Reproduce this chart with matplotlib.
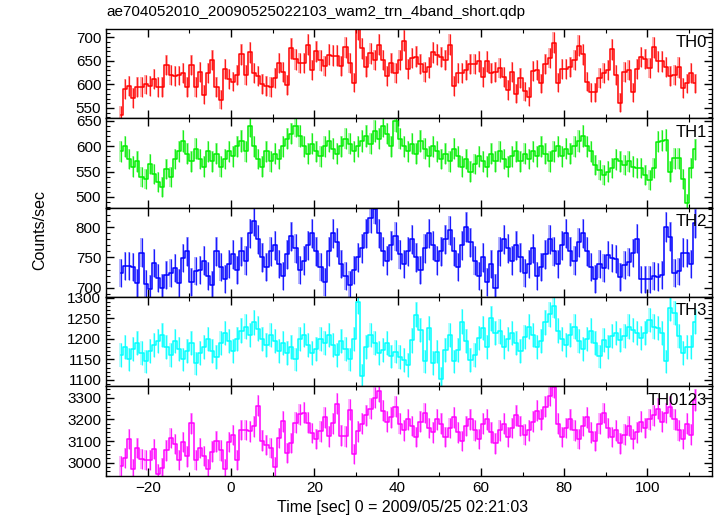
import numpy as np
import matplotlib
matplotlib.use("Agg")
import matplotlib.pyplot as plt
from matplotlib.ticker import MultipleLocator

plt.rcParams["font.family"] = ["Liberation Sans", "DejaVu Sans"]

TITLE = "ae704052010_20090525022103_wam2_trn_4band_short.qdp"
XLABEL = "Time [sec] 0 = 2009/05/25 02:21:03"
YLABEL = "Counts/sec"
T_START = -27.0   # start of the first 1 s bin
BIN = 1.0

# count rates per 1 s bin
th0 = [535, 590, 597, 571, 595, 595, 600, 597, 611, 595, 594, 641, 620, 618, 619, 624,
       594, 641, 595, 627, 578, 624, 652, 594, 567, 632, 611, 606, 620, 664, 620, 668,
       624, 618, 601, 597, 595, 613, 646, 627, 599, 677, 653, 645, 646, 684, 631, 670,
       651, 639, 663, 661, 661, 639, 679, 645, 604, 717, 677, 638, 666, 652, 684, 652,
       618, 646, 625, 652,
       693, 632, 656, 659, 644, 627, 636, 668, 663, 658, 652, 684, 597, 624, 624, 631,
       644, 644, 649, 615, 649, 625, 627, 634, 615, 588, 627, 580, 613, 585, 574, 629,
       631, 602, 644, 656, 689,
       604, 633, 633, 637, 652, 682, 664, 606, 583, 583, 613, 624, 631, 675, 620, 561,
       627, 631, 583, 632, 658, 654, 634, 679, 649, 649, 637, 618, 620, 636, 592, 602,
       624, 602]
th1 = [590, 600, 575, 560, 570, 540, 535, 565,
       545, 530, 520, 555, 540, 575, 590, 610, 585, 570,
       595, 575, 560, 590, 570, 585, 560, 575, 590, 580,
       600, 610, 590, 640, 600, 575, 560, 590, 570, 585,
       575, 600, 615, 625, 640, 620, 600, 585, 605, 590,
       580, 600, 610, 595, 585, 600, 615, 605, 590, 600,
       610, 620, 605, 630, 615, 640, 625, 600, 650, 615,
       600, 590, 605, 585, 610, 595, 580, 600, 590, 575,
       585, 570, 595, 580, 560, 575, 550, 565, 580, 570,
       560, 585, 570, 590, 575, 560, 580, 590, 570, 585,
       575, 590, 580, 600, 585, 570, 590, 600, 580, 595,
       585, 600, 610, 620, 600, 590,
       563, 553, 543, 550, 557, 574, 570, 563, 570, 560, 557, 557, 543, 533, 557, 609,
       611, 612, 550, 576, 576, 535, 488, 557, 594]
th2 = [725, 736, 736, 734, 708, 758, 707, 698, 741, 716, 700, 721, 724, 732, 708, 749,
       760, 710, 728,
       730, 745, 720, 705, 760, 735, 715, 740, 755,
       730, 760, 745, 790, 810, 780, 750, 735, 760, 770,
       740, 720, 755, 785, 765, 730, 745, 770, 790, 760,
       735, 710, 760, 790, 775, 740, 720, 705, 730, 750,
       765, 790, 815, 830, 790, 760, 745, 770, 785, 755,
       740, 760, 780, 750, 730, 765, 790, 770, 745, 760,
       780, 795, 760, 735, 770, 800, 775, 745, 720, 750,
       710, 740, 700, 760, 780, 765, 745, 770, 750, 725,
       740, 765, 720, 735, 755, 780, 760, 740, 770, 790,
       760, 745, 775, 790, 760, 735,
       715, 740, 732, 754, 749, 747, 718, 738, 743, 757, 781, 714, 714, 714, 720, 718,
       721, 800, 784, 724, 727, 758, 757, 740, 806]
th3 = [1160, 1180, 1150, 1175, 1190, 1165, 1145, 1170, 1185, 1195,
       1210, 1180, 1160, 1195, 1175, 1150, 1170, 1190, 1140, 1165,
       1180, 1200, 1170, 1155, 1190, 1215, 1195, 1170, 1200, 1220,
       1230, 1210, 1240, 1225, 1200, 1185, 1210, 1195, 1170, 1190,
       1165, 1180, 1150, 1200, 1210, 1185, 1165, 1175, 1200, 1190,
       1210, 1185, 1160, 1195, 1175, 1150, 1200, 1290, 1110, 1180,
       1210, 1190, 1165,
       1173, 1190, 1157, 1169, 1155, 1149, 1136, 1196, 1259, 1222, 1145, 1226, 1141, 1169,
       1102, 1173, 1210, 1145, 1173, 1242, 1194, 1149, 1161, 1202, 1226, 1181, 1250, 1214,
       1218,
       1180, 1200, 1215, 1190, 1170, 1205, 1230, 1210, 1180, 1195, 1240, 1260, 1280, 1220,
       1200, 1185, 1210, 1230, 1195, 1175, 1200, 1220, 1190,
       1157, 1198, 1181, 1206, 1214, 1198, 1206, 1230, 1222, 1214, 1202, 1214, 1246, 1230,
       1226, 1214, 1145, 1275, 1263, 1206, 1165, 1181, 1181, 1242]
th0123 = [2986, 3022, 3109, 2971, 3068, 3019, 3014, 3014, 3063, 2948, 2975, 3057, 3114,
          3088, 3014, 3097, 3029, 3183, 3014, 3068, 3032, 2971, 3052, 3099, 3057, 2971,
          3095, 3129, 3014, 3152, 3152, 3145, 3168, 3263, 3102, 3083, 3068, 2980, 3114,
          3191, 3045, 3091, 3186, 3225, 3232, 3186, 3137, 3109, 3145, 3211, 3122, 3183,
          3272, 3125, 3122, 3245, 3042, 3145,
          3180, 3220, 3250, 3300, 3330, 3240, 3190, 3210, 3260, 3180,
          3150, 3200, 3170, 3120, 3190, 3230, 3160, 3140, 3200, 3180,
          3120, 3160, 3210, 3140, 3100, 3170, 3200, 3150, 3110, 3180,
          3200, 3140, 3090, 3150, 3180, 3120, 3160, 3220, 3170, 3130,
          3150, 3190, 3240, 3200, 3260, 3310, 3350, 3180, 3120, 3160,
          3200, 3150, 3110, 3170, 3210, 3140, 3100, 3180, 3230, 3160,
          3120, 3150, 3090, 3130, 3170, 3110, 3140, 3190, 3160, 3200,
          3220, 3250, 3190, 3230, 3260, 3200, 3150, 3110, 3180, 3130, 3290]

names = ["TH0", "TH1", "TH2", "TH3", "TH0123"]
series = [th0, th1, th2, th3, th0123]
colors = ["#ff0000", "#00ee00", "#0000ff", "#00ffff", "#ff00ff"]
ylims = [(528, 718), (479, 655), (685, 832), (1084, 1302), (2940, 3353)]
ymajor = [50, 50, 50, 50, 100]
yminor = [10, 10, 10, 10, 20]

fig = plt.figure(figsize=(7.17, 5.16), dpi=100)
left, right, top, bottom = 0.148, 0.993, 0.944, 0.078
h = (top - bottom) / 5

for i, (name, vals, c) in enumerate(zip(names, series, colors)):
    ax = fig.add_axes([left, top - (i + 1) * h, right - left, h])
    v = np.array(vals, dtype=float)
    t = T_START + BIN * (np.arange(len(v)) + 0.5)
    err = 0.85 * np.sqrt(v)
    ax.bar(t, 2 * err, bottom=v - err, width=0.6 * BIN, color=c, alpha=0.3, lw=0)
    ax.vlines(t, v - err, v + err, color=c, lw=0.9, alpha=0.85)
    ax.step(t, v, where="mid", color=c, lw=1.1)
    ax.set_xlim(-30, 115.5)
    ax.set_ylim(*ylims[i])
    ax.xaxis.set_major_locator(MultipleLocator(20))
    ax.xaxis.set_minor_locator(MultipleLocator(10))
    ax.yaxis.set_major_locator(MultipleLocator(ymajor[i]))
    ax.yaxis.set_minor_locator(MultipleLocator(yminor[i]))
    ax.tick_params(which="both", direction="in", top=True, right=True, labelsize=11)
    ax.tick_params(which="major", length=6, width=1)
    ax.tick_params(which="minor", length=3, width=0.8)
    for s in ax.spines.values():
        s.set_linewidth(1.0)
    if i < 4:
        ax.tick_params(labelbottom=False)
    ax.text(0.992, 0.93, name, transform=ax.transAxes, ha="right", va="top", fontsize=12)

fig.text(left, 0.977, TITLE, ha="left", va="center", fontsize=11)
fig.text(277 / 717, 0.016, XLABEL, ha="left", va="center", fontsize=11.5)
fig.text(0.056, 0.554, YLABEL, ha="center", va="center", rotation=90, fontsize=11.5)

fig.savefig("out.png", dpi=100)
